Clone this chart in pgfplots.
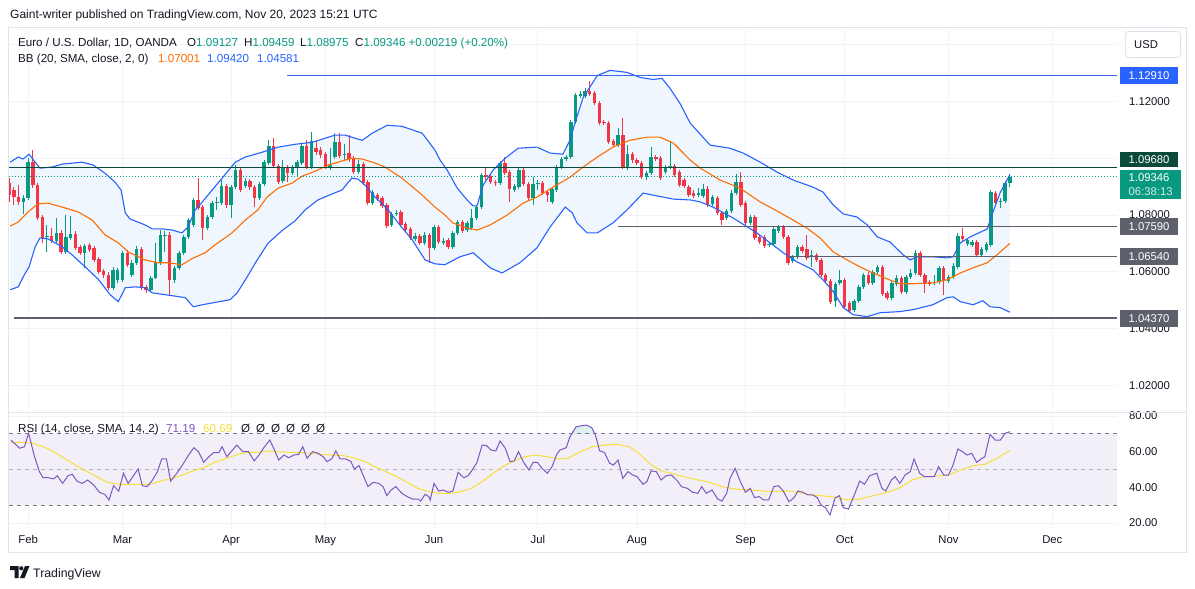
\documentclass[border=0pt]{standalone}
\usepackage{pgfplots}
\pgfplotsset{compat=1.18}
\usepackage{pgfplotstable}
\usepackage{fontspec}
\setmainfont{Liberation Sans}
\definecolor{tvtext}{HTML}{131722}
\definecolor{upc}{HTML}{089981}
\definecolor{dnc}{HTML}{F23645}
\definecolor{bbblue}{HTML}{2962FF}
\definecolor{lvlblue}{HTML}{3B6BEA}
\definecolor{bborange}{HTML}{FF6D00}
\definecolor{bbfill}{HTML}{EFF6FE}
\definecolor{gridc}{HTML}{F0F3FA}
\definecolor{framec}{HTML}{E0E3EB}
\definecolor{lvlgray}{HTML}{5D606B}
\definecolor{lvlgreen}{HTML}{0B4A3B}
\definecolor{rsic}{HTML}{7E57C2}
\definecolor{rsima}{HTML}{F7DF3A}
\definecolor{rsiband}{HTML}{F2EFF9}
\definecolor{dashc}{HTML}{787B86}
\newcommand\tvf{\fontsize{11.3}{13.5}\selectfont}
\newcommand\hdf{\fontsize{11.6}{13.5}\selectfont}

\pgfplotstableread{
i o h l c
-1 1.0846 1.0870 1.0804 1.0860
0 1.0860 1.1000 1.0853 1.0986
4 1.0723 1.0765 1.0670 1.0726
6 1.0709 1.0789 1.0702 1.0737
8 1.0670 1.0800 1.0663 1.0723
9 1.0719 1.0796 1.0712 1.0733
12 1.0667 1.0698 1.0614 1.0691
18 1.0544 1.0617 1.0537 1.0607
19 1.0572 1.0614 1.0561 1.0607
20 1.0572 1.0674 1.0565 1.0667
22 1.0589 1.0642 1.0582 1.0632
23 1.0632 1.0691 1.0625 1.0681
26 1.0537 1.0586 1.0533 1.0579
27 1.0579 1.0702 1.0575 1.0635
28 1.0635 1.0747 1.0625 1.0730
29 1.0726 1.0744 1.0670 1.0730
31 1.0572 1.0621 1.0561 1.0614
32 1.0614 1.0674 1.0607 1.0667
33 1.0667 1.0730 1.0660 1.0723
34 1.0723 1.0789 1.0716 1.0782
35 1.0765 1.0860 1.0758 1.0853
38 1.0754 1.0800 1.0747 1.0793
39 1.0793 1.0849 1.0786 1.0842
40 1.0842 1.0863 1.0818 1.0846
41 1.0842 1.0923 1.0835 1.0902
43 1.0835 1.0905 1.0789 1.0898
44 1.0898 1.0976 1.0891 1.0958
46 1.0902 1.0930 1.0895 1.0919
49 1.0860 1.0916 1.0853 1.0909
50 1.0909 1.0993 1.0902 1.0986
51 1.0983 1.1063 1.0976 1.1042
54 1.0919 1.0993 1.0912 1.0969
56 1.0947 1.0976 1.0940 1.0969
57 1.0965 1.0993 1.0933 1.0986
58 1.0983 1.1049 1.0976 1.1042
60 1.0969 1.1091 1.0961 1.1060
64 1.0969 1.1035 1.0958 1.0976
65 1.1004 1.1088 1.0997 1.1056
67 1.1011 1.1049 1.0993 1.1014
70 1.0951 1.0993 1.0944 1.0979
73 1.0842 1.0888 1.0835 1.0881
77 1.0765 1.0811 1.0758 1.0804
78 1.0804 1.0818 1.0796 1.0807
82 1.0716 1.0737 1.0709 1.0726
84 1.0702 1.0740 1.0695 1.0730
86 1.0684 1.0765 1.0677 1.0758
88 1.0702 1.0719 1.0695 1.0709
90 1.0688 1.0744 1.0681 1.0737
91 1.0737 1.0782 1.0730 1.0775
93 1.0747 1.0779 1.0740 1.0772
94 1.0754 1.0821 1.0747 1.0789
95 1.0789 1.0835 1.0782 1.0828
96 1.0828 1.0947 1.0821 1.0940
100 1.0912 1.0990 1.0905 1.0983
103 1.0888 1.0909 1.0881 1.0902
104 1.0898 1.0965 1.0891 1.0958
107 1.0860 1.0933 1.0835 1.0909
108 1.0909 1.0923 1.0888 1.0912
111 1.0846 1.0898 1.0839 1.0891
112 1.0888 1.0976 1.0881 1.0969
113 1.0969 1.1004 1.0961 1.0997
114 1.0997 1.1011 1.0990 1.1004
115 1.1004 1.1133 1.0997 1.1126
116 1.1126 1.1228 1.1119 1.1221
117 1.1218 1.1235 1.1211 1.1225
118 1.1218 1.1246 1.1211 1.1235
125 1.1046 1.1105 1.1039 1.1081
127 1.0969 1.1046 1.0958 1.1014
131 1.0933 1.0954 1.0923 1.0947
132 1.0947 1.1039 1.0940 1.1004
135 1.0951 1.0976 1.0944 1.0969
136 1.0969 1.1056 1.0961 1.0972
142 1.0870 1.0895 1.0863 1.0877
143 1.0867 1.0909 1.0860 1.0891
145 1.0839 1.0870 1.0832 1.0863
148 1.0789 1.0821 1.0782 1.0814
149 1.0814 1.0888 1.0807 1.0877
150 1.0877 1.0944 1.0870 1.0916
153 1.0772 1.0800 1.0765 1.0793
157 1.0695 1.0705 1.0688 1.0698
158 1.0698 1.0758 1.0691 1.0751
159 1.0744 1.0765 1.0737 1.0758
162 1.0639 1.0660 1.0632 1.0653
163 1.0653 1.0695 1.0646 1.0688
166 1.0653 1.0677 1.0617 1.0660
171 1.0498 1.0565 1.0477 1.0558
172 1.0561 1.0607 1.0554 1.0572
175 1.0467 1.0505 1.0460 1.0498
176 1.0498 1.0554 1.0491 1.0547
177 1.0547 1.0596 1.0540 1.0589
179 1.0561 1.0607 1.0554 1.0600
180 1.0600 1.0625 1.0593 1.0617
183 1.0509 1.0568 1.0502 1.0561
184 1.0558 1.0589 1.0551 1.0579
186 1.0530 1.0589 1.0523 1.0582
187 1.0582 1.0610 1.0575 1.0596
188 1.0596 1.0677 1.0589 1.0667
192 1.0561 1.0589 1.0554 1.0565
193 1.0565 1.0621 1.0558 1.0614
195 1.0568 1.0589 1.0561 1.0582
196 1.0582 1.0632 1.0575 1.0621
197 1.0617 1.0737 1.0610 1.0726
199 1.0698 1.0719 1.0691 1.0712
200 1.0695 1.0712 1.0688 1.0705
202 1.0660 1.0688 1.0653 1.0681
203 1.0677 1.0705 1.0670 1.0698
204 1.0695 1.0888 1.0688 1.0881
206 1.0846 1.0860 1.0825 1.0849
207 1.0849 1.0919 1.0842 1.0912
208 1.09127 1.09459 1.08975 1.09346
}\upc

\pgfplotstableread{
i o h l c
-4 1.0912 1.0930 1.0846 1.0870
-3 1.0888 1.0898 1.0835 1.0863
-2 1.0863 1.0905 1.0835 1.0846
1 1.0986 1.1028 1.0895 1.0905
2 1.0905 1.0912 1.0782 1.0789
3 1.0793 1.0800 1.0702 1.0719
5 1.0726 1.0754 1.0702 1.0709
7 1.0737 1.0747 1.0663 1.0670
10 1.0733 1.0744 1.0677 1.0684
11 1.0688 1.0695 1.0660 1.0667
13 1.0695 1.0702 1.0670 1.0677
14 1.0684 1.0691 1.0635 1.0642
15 1.0646 1.0653 1.0593 1.0600
16 1.0603 1.0610 1.0579 1.0589
17 1.0589 1.0600 1.0537 1.0544
21 1.0667 1.0677 1.0617 1.0625
24 1.0681 1.0688 1.0537 1.0544
25 1.0547 1.0554 1.0526 1.0537
30 1.0730 1.0740 1.0519 1.0572
36 1.0853 1.0930 1.0818 1.0825
37 1.0828 1.0835 1.0712 1.0754
42 1.0902 1.0909 1.0825 1.0835
45 1.0958 1.0965 1.0881 1.0888
47 1.0919 1.0926 1.0888 1.0898
48 1.0898 1.0905 1.0828 1.0860
52 1.1042 1.1070 1.0965 1.0972
53 1.0972 1.0979 1.0909 1.0916
55 1.0969 1.0976 1.0916 1.0947
59 1.1042 1.1063 1.0961 1.0969
61 1.1035 1.1060 1.1011 1.1021
62 1.1028 1.1039 1.1000 1.1011
63 1.1014 1.1021 1.0961 1.0969
66 1.1056 1.1088 1.1000 1.1007
68 1.1018 1.1081 1.0986 1.0997
69 1.1000 1.1007 1.0944 1.0951
71 1.0979 1.0986 1.0905 1.0912
72 1.0916 1.0923 1.0835 1.0842
74 1.0870 1.0877 1.0849 1.0856
75 1.0860 1.0867 1.0825 1.0832
76 1.0835 1.0842 1.0754 1.0761
79 1.0811 1.0818 1.0758 1.0765
80 1.0768 1.0775 1.0740 1.0747
81 1.0751 1.0758 1.0712 1.0719
83 1.0726 1.0733 1.0695 1.0702
85 1.0730 1.0737 1.0632 1.0684
87 1.0758 1.0765 1.0698 1.0705
89 1.0712 1.0719 1.0681 1.0688
92 1.0775 1.0782 1.0737 1.0744
97 1.0940 1.0969 1.0923 1.0933
98 1.0937 1.0944 1.0909 1.0916
99 1.0916 1.0923 1.0902 1.0912
101 1.0983 1.1004 1.0940 1.0947
102 1.0951 1.0958 1.0846 1.0891
105 1.0958 1.0965 1.0902 1.0909
106 1.0909 1.0916 1.0853 1.0860
109 1.0912 1.0919 1.0870 1.0877
110 1.0881 1.0888 1.0846 1.0870
119 1.1235 1.1270 1.1218 1.1225
120 1.1228 1.1235 1.1186 1.1193
121 1.1193 1.1200 1.1116 1.1123
122 1.1126 1.1133 1.1116 1.1123
123 1.1123 1.1130 1.1049 1.1056
124 1.1060 1.1067 1.1039 1.1046
126 1.1081 1.1140 1.0961 1.0969
128 1.1014 1.1021 1.0983 1.0993
129 1.0993 1.1000 1.0976 1.0983
130 1.0983 1.0990 1.0926 1.0933
133 1.1004 1.1011 1.0990 1.0997
134 1.1000 1.1007 1.0923 1.0930
137 1.0972 1.0979 1.0933 1.0940
138 1.0951 1.0958 1.0898 1.0905
139 1.0923 1.0930 1.0895 1.0902
140 1.0898 1.0905 1.0863 1.0870
141 1.0877 1.0888 1.0860 1.0867
144 1.0891 1.0902 1.0828 1.0835
146 1.0860 1.0867 1.0800 1.0807
147 1.0807 1.0814 1.0765 1.0782
151 1.0916 1.0951 1.0828 1.0835
152 1.0842 1.0849 1.0765 1.0772
154 1.0793 1.0800 1.0712 1.0719
155 1.0723 1.0730 1.0698 1.0705
156 1.0723 1.0730 1.0684 1.0691
160 1.0758 1.0765 1.0716 1.0723
161 1.0723 1.0730 1.0625 1.0632
164 1.0688 1.0695 1.0667 1.0674
165 1.0681 1.0730 1.0642 1.0649
167 1.0660 1.0667 1.0635 1.0642
168 1.0642 1.0649 1.0582 1.0589
169 1.0589 1.0596 1.0561 1.0568
170 1.0568 1.0575 1.0488 1.0495
173 1.0572 1.0579 1.0470 1.0477
174 1.0491 1.0498 1.0456 1.0463
178 1.0589 1.0600 1.0554 1.0561
181 1.0617 1.0625 1.0516 1.0523
182 1.0526 1.0533 1.0502 1.0509
185 1.0579 1.0586 1.0523 1.0530
189 1.0667 1.0674 1.0582 1.0589
190 1.0589 1.0596 1.0526 1.0561
191 1.0565 1.0572 1.0551 1.0558
194 1.0614 1.0621 1.0519 1.0572
198 1.0726 1.0754 1.0709 1.0716
201 1.0705 1.0712 1.0653 1.0660
205 1.0877 1.0884 1.0835 1.0842
}\dnc

\pgfplotstableread{
i p
-3.8 1.0986
-2.1 1.1004
-1.1 1.0997
0.2 1.1014
1.5 1.0986
2.5 1.0965
5.1 1.0969
7.2 1.0979
11.4 1.0986
13.8 1.0976
16.3 1.0947
18.4 1.0916
19.7 1.0888
20.6 1.0807
21.6 1.0786
24.8 1.0765
26.3 1.0751
28.4 1.0751
30.5 1.0747
32.6 1.0737
33.9 1.0758
35.4 1.0818
36.9 1.0846
38.1 1.0870
41.1 1.0930
43.9 1.0986
46.0 1.1004
49.6 1.1021
53.0 1.1039
56.6 1.1049
60.2 1.1056
65.0 1.1081
67.2 1.1081
69.3 1.1070
70.8 1.1063
72.9 1.1088
76.1 1.1116
79.2 1.1112
83.5 1.1088
86.2 1.1028
87.3 1.0993
88.8 1.0958
90.9 1.0895
93.0 1.0853
94.3 1.0832
95.1 1.0832
96.4 1.0905
98.5 1.0958
101.1 1.1000
103.8 1.1035
107.8 1.1039
110.6 1.1018
113.3 1.1014
114.8 1.1063
115.9 1.1126
117.6 1.1214
120.6 1.1291
123.3 1.1309
126.9 1.1302
129.7 1.1284
132.4 1.1277
134.3 1.1281
136.0 1.1246
138.1 1.1193
140.3 1.1123
144.5 1.1046
148.7 1.1035
151.5 1.1018
155.1 1.0986
158.7 1.0951
162.1 1.0923
166.3 1.0898
168.4 1.0881
170.6 1.0835
172.7 1.0804
175.6 1.0793
177.8 1.0765
179.9 1.0723
182.6 1.0705
185.4 1.0660
186.9 1.0642
188.3 1.0653
191.7 1.0653
194.7 1.0649
196.0 1.0653
197.5 1.0702
199.6 1.0723
203.2 1.0751
204.2 1.0800
205.9 1.0877
208.0 1.0942
}\bbu

\pgfplotstableread{
i p
-3.8 1.0537
-2.1 1.0547
-0.6 1.0596
0.2 1.0617
1.5 1.0688
2.5 1.0719
4.2 1.0716
7.2 1.0688
9.3 1.0660
12.1 1.0617
14.8 1.0575
17.4 1.0519
19.1 1.0495
20.6 1.0544
22.7 1.0547
24.8 1.0544
26.3 1.0526
30.5 1.0516
33.3 1.0509
35.0 1.0477
36.9 1.0484
39.2 1.0491
42.8 1.0502
44.3 1.0526
46.4 1.0582
48.1 1.0630
50.8 1.0700
53.8 1.0745
56.6 1.0780
58.7 1.0818
61.4 1.0853
64.4 1.0874
66.5 1.0888
68.6 1.0930
69.9 1.0926
71.4 1.0905
73.5 1.0863
76.3 1.0818
78.4 1.0772
81.4 1.0712
84.1 1.0642
86.2 1.0628
88.3 1.0625
91.5 1.0653
94.3 1.0667
97.9 1.0614
100.4 1.0596
104.2 1.0632
107.8 1.0684
110.6 1.0758
113.8 1.0828
115.3 1.0807
116.3 1.0772
118.4 1.0737
120.6 1.0737
123.9 1.0772
126.9 1.0818
130.3 1.0877
133.3 1.0867
136.7 1.0856
140.3 1.0853
142.4 1.0846
145.1 1.0828
149.4 1.0789
154.4 1.0737
157.2 1.0702
160.0 1.0667
162.9 1.0635
166.3 1.0607
168.4 1.0572
170.6 1.0530
172.7 1.0474
174.8 1.0449
177.8 1.0442
180.5 1.0456
184.7 1.0460
187.5 1.0467
191.7 1.0484
194.7 1.0509
196.0 1.0512
197.5 1.0495
200.2 1.0484
202.3 1.0498
203.8 1.0477
205.9 1.0474
208.0 1.0458
}\bbl

% band outline: upper band forward, lower band backward
\pgfplotstableread{
i p
-3.8 1.0986
-2.1 1.1004
-1.1 1.0997
0.2 1.1014
1.5 1.0986
2.5 1.0965
5.1 1.0969
7.2 1.0979
11.4 1.0986
13.8 1.0976
16.3 1.0947
18.4 1.0916
19.7 1.0888
20.6 1.0807
21.6 1.0786
24.8 1.0765
26.3 1.0751
28.4 1.0751
30.5 1.0747
32.6 1.0737
33.9 1.0758
35.4 1.0818
36.9 1.0846
38.1 1.0870
41.1 1.0930
43.9 1.0986
46.0 1.1004
49.6 1.1021
53.0 1.1039
56.6 1.1049
60.2 1.1056
65.0 1.1081
67.2 1.1081
69.3 1.1070
70.8 1.1063
72.9 1.1088
76.1 1.1116
79.2 1.1112
83.5 1.1088
86.2 1.1028
87.3 1.0993
88.8 1.0958
90.9 1.0895
93.0 1.0853
94.3 1.0832
95.1 1.0832
96.4 1.0905
98.5 1.0958
101.1 1.1000
103.8 1.1035
107.8 1.1039
110.6 1.1018
113.3 1.1014
114.8 1.1063
115.9 1.1126
117.6 1.1214
120.6 1.1291
123.3 1.1309
126.9 1.1302
129.7 1.1284
132.4 1.1277
134.3 1.1281
136.0 1.1246
138.1 1.1193
140.3 1.1123
144.5 1.1046
148.7 1.1035
151.5 1.1018
155.1 1.0986
158.7 1.0951
162.1 1.0923
166.3 1.0898
168.4 1.0881
170.6 1.0835
172.7 1.0804
175.6 1.0793
177.8 1.0765
179.9 1.0723
182.6 1.0705
185.4 1.0660
186.9 1.0642
188.3 1.0653
191.7 1.0653
194.7 1.0649
196.0 1.0653
197.5 1.0702
199.6 1.0723
203.2 1.0751
204.2 1.0800
205.9 1.0877
208.0 1.0942
208.0 1.0458
205.9 1.0474
203.8 1.0477
202.3 1.0498
200.2 1.0484
197.5 1.0495
196.0 1.0512
194.7 1.0509
191.7 1.0484
187.5 1.0467
184.7 1.0460
180.5 1.0456
177.8 1.0442
174.8 1.0449
172.7 1.0474
170.6 1.0530
168.4 1.0572
166.3 1.0607
162.9 1.0635
160.0 1.0667
157.2 1.0702
154.4 1.0737
149.4 1.0789
145.1 1.0828
142.4 1.0846
140.3 1.0853
136.7 1.0856
133.3 1.0867
130.3 1.0877
126.9 1.0818
123.9 1.0772
120.6 1.0737
118.4 1.0737
116.3 1.0772
115.3 1.0807
113.8 1.0828
110.6 1.0758
107.8 1.0684
104.2 1.0632
100.4 1.0596
97.9 1.0614
94.3 1.0667
91.5 1.0653
88.3 1.0625
86.2 1.0628
84.1 1.0642
81.4 1.0712
78.4 1.0772
76.3 1.0818
73.5 1.0863
71.4 1.0905
69.9 1.0926
68.6 1.0930
66.5 1.0888
64.4 1.0874
61.4 1.0853
58.7 1.0818
56.6 1.0780
53.8 1.0745
50.8 1.0700
48.1 1.0630
46.4 1.0582
44.3 1.0526
42.8 1.0502
39.2 1.0491
36.9 1.0484
35.0 1.0477
33.3 1.0509
30.5 1.0516
26.3 1.0526
24.8 1.0544
22.7 1.0547
20.6 1.0544
19.1 1.0495
17.4 1.0519
14.8 1.0575
12.1 1.0617
9.3 1.0660
7.2 1.0688
4.2 1.0716
2.5 1.0719
1.5 1.0688
0.2 1.0617
-0.6 1.0596
-2.1 1.0547
-3.8 1.0537
}\bbband

\pgfplotstableread{
i p
-3.8 1.0761
-2.1 1.0775
0.0 1.0811
2.1 1.0839
4.2 1.0842
7.8 1.0825
10.6 1.0811
13.6 1.0782
16.3 1.0730
19.1 1.0702
21.2 1.0670
24.8 1.0642
27.5 1.0632
29.7 1.0632
32.6 1.0625
34.7 1.0646
37.5 1.0667
39.6 1.0695
43.2 1.0737
46.0 1.0782
48.7 1.0818
50.6 1.0863
53.0 1.0895
55.9 1.0912
58.1 1.0937
60.8 1.0954
63.6 1.0976
66.5 1.0990
68.6 1.1000
70.8 1.0997
73.5 1.0983
75.6 1.0969
79.2 1.0930
83.5 1.0870
86.2 1.0828
88.3 1.0800
90.0 1.0772
93.0 1.0754
95.1 1.0747
97.9 1.0765
101.5 1.0800
104.9 1.0842
107.8 1.0863
111.2 1.0898
114.8 1.0933
117.6 1.0969
120.6 1.1004
123.9 1.1039
127.5 1.1063
131.1 1.1074
133.9 1.1074
136.7 1.1053
138.1 1.1030
140.3 1.0993
142.4 1.0965
146.6 1.0923
150.8 1.0895
155.1 1.0846
158.7 1.0814
162.1 1.0782
165.0 1.0754
167.8 1.0719
170.6 1.0670
173.5 1.0642
176.3 1.0617
179.0 1.0596
182.0 1.0575
184.7 1.0558
187.5 1.0558
191.7 1.0561
194.7 1.0572
197.5 1.0596
200.2 1.0614
203.2 1.0632
205.3 1.0660
208.0 1.0700
}\bbm

\pgfplotstableread{
i v
-3.66 66.5
-1.77 61.9
-0.78 62.8
0.12 70.3
1.26 58.1
2.39 48.8
3.15 45.4
4.28 45.4
5.42 44.7
6.18 46.5
7.31 42.2
8.45 46.5
9.35 47.3
10.34 43.5
11.47 42.2
12.61 44.1
13.9 41.3
15.1 37.2
16.2 36.1
17.15 32.9
18.1 40.9
19.2 37.9
20.2 47.9
21.2 42.2
22.2 46.0
23.3 50.3
24.2 40.9
25.2 40.4
26.2 43.5
27.4 48.8
28.3 55.9
29.3 55.9
30.2 43.5
31.5 47.9
32.7 52.5
34.0 58.1
35.1 62.2
36.1 60.0
37.2 54.0
38.3 57.2
39.3 59.4
40.4 59.4
41.1 62.8
42.1 57.2
43.3 60.9
44.2 63.7
45.5 60.0
46.7 60.0
47.9 54.8
48.9 58.1
50.1 62.8
51.2 66.5
52.2 60.9
53.1 55.3
54.2 58.1
55.2 56.6
56.3 58.1
57.3 58.5
58.2 62.8
59.1 56.3
60.3 60.0
61.4 59.1
62.5 57.2
63.3 54.4
64.3 55.9
65.2 60.4
66.1 55.9
67.3 55.9
68.4 54.4
69.1 50.3
70.1 52.2
71.1 46.0
72.0 40.4
73.1 42.8
74.3 42.2
75.2 40.4
76.0 35.3
76.9 38.5
77.9 40.4
79.2 36.6
80.3 34.8
81.5 33.4
82.6 33.4
83.2 32.3
84.1 36.1
84.9 34.8
85.2 32.9
86.0 42.2
87.0 37.9
88.0 38.5
89.0 37.2
90.0 37.9
91.1 48.4
92.3 45.4
93.2 46.5
94.1 49.7
95.1 54.0
96.2 63.7
97.1 63.4
98.1 60.9
99.1 60.4
100.0 66.0
101.1 61.9
102.1 54.4
103.0 54.8
103.9 60.0
104.9 54.4
106.1 49.7
107.0 54.0
107.9 54.0
108.9 50.6
110.0 47.9
111.0 51.6
112.0 58.5
112.7 60.9
114.0 62.2
114.8 68.4
116.1 74.0
117.4 74.6
118.3 74.9
119.4 73.5
120.2 69.3
121.1 60.4
122.1 59.6
123.2 53.5
124.0 52.5
125.0 55.3
126.0 45.0
127.1 48.8
128.1 46.9
129.0 46.0
130.3 41.7
131.1 43.2
132.0 49.2
133.1 48.8
134.1 44.1
135.2 46.5
136.3 46.9
137.6 43.5
138.4 40.4
139.7 39.4
140.8 37.2
141.9 36.6
142.7 40.4
143.7 36.6
144.9 38.5
146.1 33.4
147.0 32.3
148.0 36.6
148.7 45.0
149.8 50.6
150.9 43.2
152.0 37.2
153.0 39.4
153.9 34.2
154.9 34.8
155.8 32.9
156.9 32.9
158.0 40.4
159.0 40.9
160.0 37.9
161.2 31.9
162.3 34.2
163.1 37.9
164.2 37.2
165.2 35.7
166.3 35.7
167.2 34.2
168.0 30.1
168.9 28.6
169.9 24.5
171.0 34.2
171.9 35.3
172.7 28.6
173.8 27.8
174.9 34.8
176.2 43.5
177.2 41.7
178.3 46.5
179.8 47.9
180.9 39.4
181.7 37.9
182.9 44.1
183.7 46.0
184.7 42.2
185.8 46.9
186.9 48.8
187.7 55.9
188.9 47.9
189.9 46.0
191.2 46.0
192.0 46.0
192.9 51.6
194.0 46.9
195.0 46.9
195.9 52.1
197.0 61.5
198.0 60.0
198.9 58.1
199.9 59.1
201.0 54.0
201.9 55.9
202.7 57.2
203.8 69.7
204.9 66.5
206.0 66.5
207.0 70.3
208.0 71.19
}\rsi

\pgfplotstableread{
i v
-3.66 65.2
-1.4 65.2
0.9 64.7
3.15 62.8
5.42 60.0
7.7 56.3
9.96 52.5
12.2 49.2
14.5 46.0
16.8 42.8
19.0 41.7
21.3 41.7
23.6 41.7
25.9 41.7
28.1 43.5
30.4 45.0
32.7 46.9
34.9 49.2
37.2 51.0
39.5 54.0
41.7 55.9
44.0 58.1
46.3 59.6
48.5 59.6
50.8 60.4
53.1 60.0
55.4 59.6
57.6 59.4
59.9 59.1
62.2 58.5
64.4 58.1
66.7 57.8
69.0 56.6
71.3 54.4
73.5 51.6
75.8 48.8
78.1 46.0
80.3 42.8
82.6 39.4
84.9 37.6
87.1 36.6
89.4 36.6
91.7 37.6
93.9 39.4
96.2 43.2
98.5 47.8
100.8 52.1
103.0 54.8
105.3 57.2
107.6 58.1
109.8 57.2
112.7 55.9
114.4 56.3
117.0 60.0
119.6 62.8
122.1 63.7
124.7 64.1
127.3 62.8
129.4 59.1
131.6 53.5
134.1 49.2
137.6 46.9
141.0 44.7
144.4 42.8
147.0 40.4
149.6 39.1
153.0 38.5
157.3 37.6
161.6 37.9
165.9 35.7
170.2 34.8
173.6 32.9
176.2 33.4
179.6 35.7
182.2 37.2
184.7 39.8
187.3 44.1
189.9 46.0
192.5 46.3
195.0 46.9
197.6 49.7
200.2 52.1
202.7 52.9
205.3 56.3
208.0 60.69
}\rsima

\pgfplotsset{
  wick/.style={draw=none, mark=none, forget plot,
    error bars/.cd, y dir=plus, y explicit, error mark=none,
    error bar style={draw=#1, solid, line width=1pt}},
  body/.style={draw=none, mark=none, forget plot,
    error bars/.cd, y dir=plus, y explicit, error mark=none,
    error bar style={draw=#1, solid, line width=3.4pt}},
  tvaxis/.style={scale only axis, anchor=north west, width=1108pt,
    xmin=-4.05, xmax=230.7,
    axis line style={draw=none}, tick style={draw=none},
    xtick={0,20,43,63,86,108,129,152,173,195,217},
    grid=major, major grid style={draw=gridc, line width=0.8pt},
    yticklabel pos=right,
    yticklabel style={font=\tvf, text=tvtext, anchor=west, inner xsep=0pt, xshift=12pt},
    clip=false},
}
\tikzset{
  lbl/.style={anchor=west, text=white, font=\tvf, inner xsep=8.5pt, inner ysep=0pt,
    minimum height=17pt, xshift=3pt},
}

\begin{document}
\begin{tikzpicture}
\useasboundingbox (0pt,0pt) rectangle (1195pt,-589pt);
\fill[white] (0pt,0pt) rectangle (1195pt,-589pt);

% ---------- price pane ----------
\begin{axis}[tvaxis, at={(9pt,-30pt)}, height=382pt,
  ymin=1.010656, ymax=1.14512,
  xticklabels={},
  ytick={1.02,1.04,1.06,1.08,1.10,1.12,1.14},
  yticklabels={1.02000,1.04000,1.06000,1.08000,,1.12000,}]
  \addplot[fill=bbfill, draw=none, forget plot] table[x=i,y=p] {\bbband};

  % candles
  \addplot[wick=upc] table[x=i, y=l, y error plus expr=\thisrow{h}-\thisrow{l}] {\upc};
  \addplot[body=upc] table[x=i, y=o, y error plus expr=\thisrow{c}-\thisrow{o}] {\upc};
  \addplot[wick=dnc] table[x=i, y=l, y error plus expr=\thisrow{h}-\thisrow{l}] {\dnc};
  \addplot[body=dnc] table[x=i, y=c, y error plus expr=\thisrow{o}-\thisrow{c}] {\dnc};

  % Bollinger lines
  \addplot[bbblue, line width=1.1pt, forget plot] table[x=i,y=p] {\bbu};
  \addplot[bbblue, line width=1.1pt, forget plot] table[x=i,y=p] {\bbl};
  \addplot[bborange, line width=1.1pt, forget plot] table[x=i,y=p] {\bbm};

  % horizontal levels
  \addplot[lvlblue, line width=1.1pt, forget plot] coordinates {(54.9,1.12910) (230.7,1.12910)};
  \addplot[lvlgreen, line width=1.5pt, forget plot] coordinates {(-4.05,1.09680) (230.7,1.09680)};
  \addplot[upc, line width=1pt, dash pattern=on 1pt off 2pt, forget plot] coordinates {(-4.05,1.09346) (230.7,1.09346)};
  \addplot[lvlgray, line width=1.2pt, forget plot] coordinates {(125,1.07590) (230.7,1.07590)};
  \addplot[lvlgray, line width=1.2pt, forget plot] coordinates {(161,1.06540) (230.7,1.06540)};
  \addplot[lvlgray, line width=2.4pt, forget plot] coordinates {(-3,1.04370) (230.7,1.04370)};

  % price scale labels
  \node[lbl, fill=bbblue] at (axis cs:230.7,1.12910) {1.12910};
  \node[lbl, fill=lvlgreen, minimum height=15.6pt, yshift=7.6pt] at (axis cs:230.7,1.09680) {1.09680};
  \node[lbl, fill=lvlgray] at (axis cs:230.7,1.07590) {1.07590};
  \node[lbl, fill=lvlgray] at (axis cs:230.7,1.06540) {1.06540};
  \node[lbl, fill=lvlgray] at (axis cs:230.7,1.04370) {1.04370};
  \node[anchor=north west, fill=upc, text=white, font=\fontsize{11.3}{14.2}\selectfont,
        align=left, inner xsep=8.5pt, inner ysep=3.6pt, xshift=3pt, yshift=7.3pt]
        at (axis cs:230.7,1.09346) {1.09346\\\textcolor{white!82!upc}{06:38:13}};
\end{axis}

% ---------- RSI pane ----------
\begin{axis}[tvaxis, at={(9pt,-413pt)}, height=115pt,
  ymin=17.18, ymax=81.68,
  xticklabels={Feb,Mar,Apr,May,Jun,Jul,Aug,Sep,Oct,Nov,Dec},
  xticklabel style={font=\tvf, text=tvtext, yshift=-4pt},
  ytick={20,40,60,80}, yticklabels={20.00,40.00,60.00,80.00}]
  \addplot[fill=rsiband, draw=none, forget plot] coordinates {(-4.05,30) (230.7,30) (230.7,70) (-4.05,70) (-4.05,30)};
  \addplot[fill=upc!14, draw=none, forget plot] coordinates {(114.9,70) (116.1,74.0) (117.4,74.6) (118.3,74.9) (119.4,73.5) (120.1,70) (114.9,70)};
  \addplot[fill=upc!14, draw=none, forget plot] coordinates {(206.8,70) (207.0,70.3) (208.0,71.19) (208.0,70) (206.8,70)};
  \addplot[dashc, line width=0.9pt, dash pattern=on 4pt off 4pt, forget plot] coordinates {(-4.05,70) (230.7,70)};
  \addplot[dashc!55, line width=0.9pt, dash pattern=on 4pt off 4pt, forget plot] coordinates {(-4.05,50) (230.7,50)};
  \addplot[dashc, line width=0.9pt, dash pattern=on 4pt off 4pt, forget plot] coordinates {(-4.05,30) (230.7,30)};
  \addplot[rsima, line width=1pt, forget plot] table[x=i,y=v] {\rsima};
  \addplot[rsic, line width=1pt, forget plot] table[x=i,y=v] {\rsi};
\end{axis}

\begin{scope}[x=1pt,y=1pt]
% ---------- frame and separators ----------
\draw[framec, line width=1pt] (8.5,-27.5) rectangle (1186.5,-552.5);
\draw[framec, line width=1.5pt] (8.5,-412.5) -- (1186.5,-412.5);

% USD box
\draw[framec, line width=1pt, rounded corners=3pt, fill=white] (1125.5,-31.5) rectangle (1180.5,-57.5);
\node[anchor=base west, font=\tvf, text=tvtext, inner sep=0pt] at (1134,-48.5) {USD};

% ---------- header texts ----------
\node[anchor=base west, font=\fontsize{12}{13.5}\selectfont, text=tvtext, inner sep=0pt] at (10,-18) {Gaint-writer published on TradingView.com, Nov 20, 2023 15:21 UTC};
\begin{scope}[every node/.style={anchor=base west, font=\hdf, text=tvtext, inner sep=0pt}]
\node at (18,-46) {Euro / U.S. Dollar, 1D, OANDA};
\node at (187,-46) {O\textcolor{upc}{1.09127}};
\node at (244,-46) {H\textcolor{upc}{1.09459}};
\node at (300,-46) {L\textcolor{upc}{1.08975}};
\node at (355,-46) {C\textcolor{upc}{1.09346 +0.00219 (+0.20\%)}};
\node at (18,-62) {BB (20, SMA, close, 2, 0)};
\node at (158,-62) {\textcolor{bborange}{1.07001}};
\node at (207,-62) {\textcolor{bbblue}{1.09420}};
\node at (257,-62) {\textcolor{bbblue}{1.04581}};
\node at (18,-432) {RSI (14, close, SMA, 14, 2)};
\node at (166,-432) {\textcolor{rsic}{71.19}};
\node at (203,-432) {\textcolor{rsima}{60.69}};
\node at (241,-432) {Ø};
\node at (256,-432) {Ø};
\node at (271,-432) {Ø};
\node at (286,-432) {Ø};
\node at (301,-432) {Ø};
\node at (316,-432) {Ø};
\end{scope}

% ---------- TradingView logo ----------
\fill[tvtext] (10,-566) -- (18.5,-566) -- (18.5,-578) -- (14.5,-578) -- (14.5,-570) -- (10,-570) -- cycle;
\fill[tvtext] (21.3,-568.3) circle (2.1);
\fill[tvtext] (25,-566) -- (29.5,-566) -- (24.5,-578) -- (20,-578) -- cycle;
\node[anchor=base west, font=\fontsize{12.3}{14}\selectfont, text=tvtext, inner sep=0pt] at (33,-577) {TradingView};
\end{scope}
\end{tikzpicture}
\end{document}
